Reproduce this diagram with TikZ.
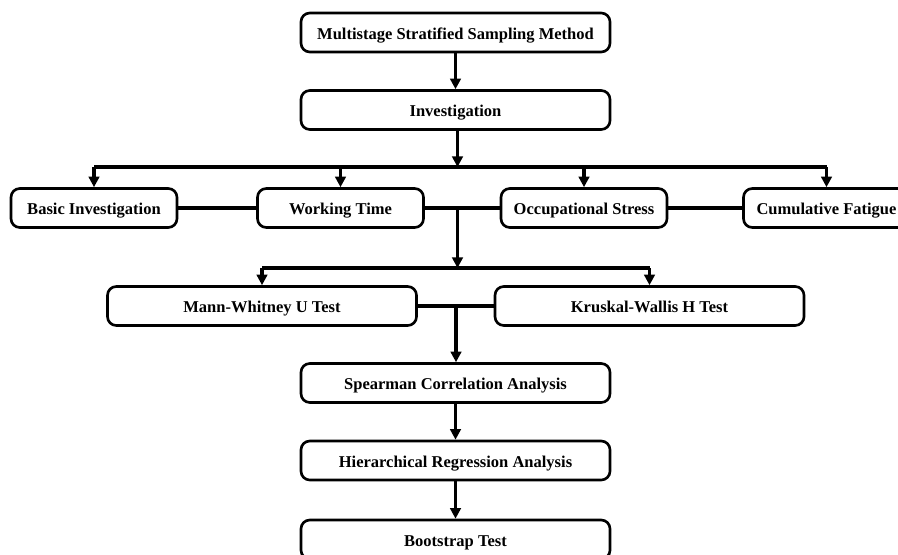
\documentclass[tikz,border=0pt]{standalone}
\usepackage{fontspec}
\setmainfont{Liberation Serif}
\usepackage{tikz}
\usetikzlibrary{arrows.meta}
\tikzstyle{box_normal} = [rectangle, draw, rounded corners=5pt, line width=1.5pt, inner sep=0pt, minimum height=39*0.02cm, text height=1.65ex, text depth=0ex, font=\fontsize{9.4}{11}\selectfont\bfseries]
\tikzstyle{box_short} = [box_normal, minimum width=166*0.02cm]
\tikzstyle{box_long} = [box_normal, minimum width=309*0.02cm]
\tikzstyle{edge_normal} = [line width=1.8pt]
\tikzstyle{edge_arrow} = [line width=1.8pt, -{Triangle[length=6pt,width=6pt]}]

\begin{document}
\begin{tikzpicture}[x=0.02cm, y=-0.02cm]
			\useasboundingbox (0,0) rectangle (898,554);
			\node (MSS) at (455.5,32.5) [box_long] {Multistage Stratified Sampling Method};
			\node (INV) at (455.5,110) [box_long] {Investigation};
			\node (BI) at (94,208) [box_short] {Basic Investigation};
			\node (WT) at (340.5,208) [box_short] {Working Time};
			\node (OS) at (584,208) [box_short] {Occupational Stress};
			\node (CF) at (826.5,208) [box_short] {Cumulative Fatigue};
			\node (MW) at (262,306) [box_long] {Mann-Whitney U Test};
			\node (KW) at (649.5,306) [box_long] {Kruskal-Wallis H Test};
			\node (SCA) at (455.5,383) [box_long] {Spearman Correlation Analysis};
			\node (HRA) at (455.5,460.5) [box_long] {Hierarchical Regression Analysis};
			\node (BT) at (455.5,539.5) [box_long] {Bootstrap Test};
			
			\coordinate (busA) at (457.5,167);
			\coordinate (busB) at (457.5,268);
			\coordinate (midB) at (457.5,208);
			\coordinate (midC) at (456,306);
			
			\draw[edge_arrow] (MSS)--(INV);
			\draw[edge_arrow] (INV.south -| busA)--(busA);
			\draw[edge_normal] (BI.north |- busA)--(CF.north |- busA);
			\draw[edge_arrow] (BI.north |- busA)--(BI.north);
			\draw[edge_arrow] (WT.north |- busA)--(WT.north);
			\draw[edge_arrow] (OS.north |- busA)--(OS.north);
			\draw[edge_arrow] (CF.north |- busA)--(CF.north);
			
			\draw[edge_normal] (BI)--(WT) (WT)--(OS) (OS)--(CF);
			\draw[edge_arrow] (midB)--(busB);
			\draw[edge_normal] (MW.north |- busB)--(KW.north |- busB);
			\draw[edge_arrow] (MW.north |- busB)--(MW.north);
			\draw[edge_arrow] (KW.north |- busB)--(KW.north);
			
			\draw[edge_normal] (MW)--(KW);
			\draw[edge_arrow] (midC)--(SCA.north -| midC);
			\draw[edge_arrow] (SCA)--(HRA);
			\draw[edge_arrow] (HRA)--(BT);
		\end{tikzpicture}
\end{document}
